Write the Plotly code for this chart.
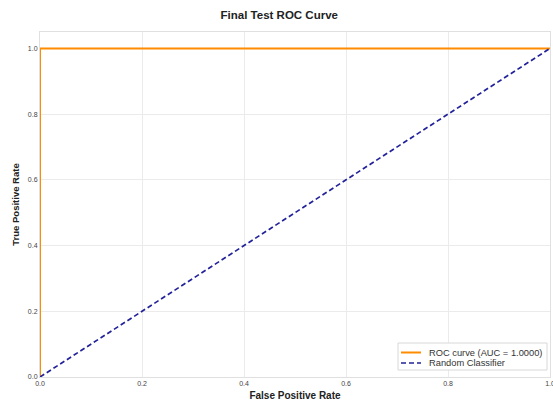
import plotly.graph_objects as go

fpr = [0.0, 0.0, 1.0]
tpr = [0.0, 1.0, 1.0]
rand_x = [0.0, 1.0]
rand_y = [0.0, 1.0]
auc = 1.0
xticks = [0.0, 0.2, 0.4, 0.6, 0.8, 1.0]
yticks = [0.0, 0.2, 0.4, 0.6, 0.8, 1.0]
legend_labels = [f"ROC curve (AUC = {auc:.4f})", "Random Classifier"]

ORANGE = "#FF8C00"
NAVY = "#22229a"
FONT = "Liberation Sans, Arial"

fig = go.Figure()
fig.add_trace(go.Scatter(x=fpr, y=tpr, mode="lines",
                         line=dict(color=ORANGE, width=2),
                         name=legend_labels[0], showlegend=False))
fig.add_trace(go.Scatter(x=rand_x, y=rand_y, mode="lines",
                         line=dict(color=NAVY, width=1.7, dash="5px,3px"),
                         name=legend_labels[1], showlegend=False))

axis_common = dict(showgrid=True, gridcolor="#ebebeb", gridwidth=1,
                   zeroline=False, showline=True, linecolor="#e0e0e0", linewidth=1,
                   mirror=True, ticks="", ticklabeloverflow="allow", automargin=False,
                   tickfont=dict(size=7, color="#444444", family=FONT),
                   tickformat=".1f")

# Manual compact legend (paper coordinates)
W, H = 553, 401
ml, mr, mt, mb = 40, 3, 32, 24
pw, ph = W - ml - mr, H - mt - mb
def px(x):
    return (x - ml) / pw
def py(y):
    return (H - mb - y) / ph

shapes = [
    dict(type="rect", xref="paper", yref="paper",
         x0=px(398), x1=px(547), y0=py(370), y1=py(343),
         fillcolor="white", line=dict(color="#d8d8d8", width=1), layer="above"),
    dict(type="line", xref="paper", yref="paper",
         x0=px(401), x1=px(421), y0=py(352.5), y1=py(352.5),
         line=dict(color=ORANGE, width=2), layer="above"),
    dict(type="line", xref="paper", yref="paper",
         x0=px(401), x1=px(421), y0=py(363), y1=py(363),
         line=dict(color=NAVY, width=1.7, dash="5px,3px"), layer="above"),
]
annotations = [
    dict(text=legend_labels[0], xref="paper", yref="paper", x=px(427), y=py(352.5),
         xanchor="left", yanchor="middle", showarrow=False,
         font=dict(size=9.3, color="#333333", family=FONT)),
    dict(text=legend_labels[1], xref="paper", yref="paper", x=px(427), y=py(363),
         xanchor="left", yanchor="middle", showarrow=False,
         font=dict(size=9.3, color="#333333", family=FONT)),
]

fig.update_layout(
    width=W, height=H,
    margin=dict(l=ml, r=mr, t=mt, b=mb, autoexpand=False),
    paper_bgcolor="white", plot_bgcolor="white",
    title=dict(text="<b>Final Test ROC Curve</b>", x=0.505, xanchor="center", y=0.963, yanchor="middle",
               font=dict(size=11.5, color="#222222", family=FONT)),
    xaxis=dict(range=[0, 1], tickvals=xticks, **axis_common,
               title=dict(text="<b>False Positive Rate</b>", standoff=5,
                          font=dict(size=10, color="#222222", family=FONT))),
    yaxis=dict(range=[0, 1.05], tickvals=yticks, **axis_common,
               title=dict(text="<b>True Positive Rate</b>", standoff=6,
                          font=dict(size=9.5, color="#222222", family=FONT))),
    shapes=shapes,
    annotations=annotations,
    showlegend=False,
)

fig.write_html("out.html")
